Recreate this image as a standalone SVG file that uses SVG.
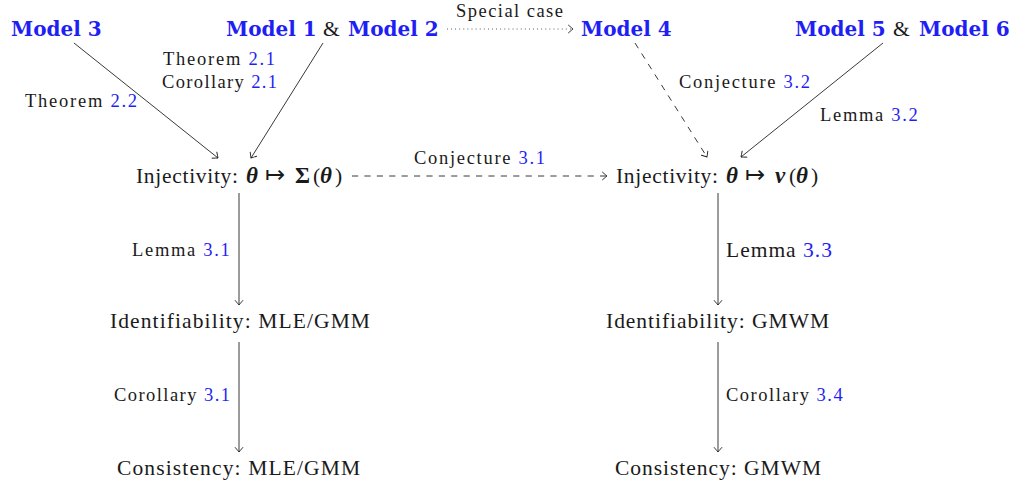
<svg xmlns="http://www.w3.org/2000/svg" width="1017" height="485" viewBox="0 0 1017 485">
<defs>
<marker id="ar" markerUnits="userSpaceOnUse" markerWidth="12" markerHeight="12" viewBox="-6 -6 12 12" refX="0" refY="0" orient="auto" overflow="visible">
<path d="M-4.5,-3.8 Q-1.2,-1 0,0 Q-1.2,1 -4.5,3.8" fill="none" stroke="#222" stroke-width="0.9" stroke-linecap="round"/>
</marker>
</defs>
<rect width="1017" height="485" fill="#fff"/>
<g id="connectors" stroke="#222" stroke-width="0.9" fill="none">
<line x1="74" y1="43" x2="218" y2="158" marker-end="url(#ar)"/>
<line x1="323" y1="43" x2="251" y2="158" marker-end="url(#ar)"/>
<line stroke-dasharray="0.8 3.3" x1="447" y1="29" x2="573" y2="29" marker-end="url(#ar)"/>
<line stroke-dasharray="6.2 6.2" x1="635" y1="43" x2="707" y2="157" marker-end="url(#ar)"/>
<line x1="883" y1="43" x2="741" y2="157" marker-end="url(#ar)"/>
<line stroke-dasharray="6.2 6.2" x1="352" y1="176" x2="607" y2="176" marker-end="url(#ar)"/>
<line x1="239" y1="193" x2="239" y2="305" marker-end="url(#ar)"/>
<line x1="239" y1="342" x2="239" y2="452" marker-end="url(#ar)"/>
<line x1="718" y1="193" x2="718" y2="305" marker-end="url(#ar)"/>
<line x1="718" y1="342" x2="718" y2="452" marker-end="url(#ar)"/>
</g>
<g id="labels" fill="#1a1a1a">
<text font-family="Liberation Serif" font-size="18.5" x="163" y="65" letter-spacing="1.75">Theorem <tspan fill="#1f1ff5">2.1</tspan></text>
<text font-family="Liberation Serif" font-size="18.5" x="162" y="88" letter-spacing="1.36">Corollary <tspan fill="#1f1ff5">2.1</tspan></text>
<text font-family="Liberation Serif" font-size="18.5" x="25" y="107" letter-spacing="1.75">Theorem <tspan fill="#1f1ff5">2.2</tspan></text>
<text font-family="Liberation Serif" font-size="18.5" x="456" y="17" letter-spacing="1.46">Special case</text>
<text font-family="Liberation Serif" font-size="18.5" x="679" y="88" letter-spacing="1.7">Conjecture <tspan fill="#1f1ff5">3.2</tspan></text>
<text font-family="Liberation Serif" font-size="18.5" x="820" y="121" letter-spacing="1.7">Lemma <tspan fill="#1f1ff5">3.2</tspan></text>
<text font-family="Liberation Serif" font-size="18.5" x="414" y="164" letter-spacing="1.7">Conjecture <tspan fill="#1f1ff5">3.1</tspan></text>
<text font-family="Liberation Serif" font-size="18.5" x="132" y="256" letter-spacing="1.7">Lemma <tspan fill="#1f1ff5">3.1</tspan></text>
<text font-family="Liberation Serif" font-size="18.5" x="114" y="401" letter-spacing="1.44">Corollary <tspan fill="#1f1ff5">3.1</tspan></text>
<text font-family="Liberation Serif" font-size="21.5" x="726" y="257" letter-spacing="1.0">Lemma <tspan fill="#1f1ff5">3.3</tspan></text>
<text font-family="Liberation Serif" font-size="18.5" x="726" y="401" letter-spacing="1.5">Corollary <tspan fill="#1f1ff5">3.4</tspan></text>
</g>
<g fill="#1a1a1a">
<g id="model3"><text x="11" y="35.5" font-family="DejaVu Serif" font-size="20" font-weight="bold" fill="#1f1ff5">Model 3</text></g>
<g id="model12"><text y="35.5" font-family="Liberation Serif" font-size="21.5"><tspan x="226" font-family="DejaVu Serif" font-size="20" font-weight="bold" fill="#1f1ff5">Model 1</tspan><tspan x="323">&amp;</tspan><tspan x="348" font-family="DejaVu Serif" font-size="20" font-weight="bold" fill="#1f1ff5">Model 2</tspan></text></g>
<g id="model4"><text x="581" y="35.5" font-family="DejaVu Serif" font-size="20" font-weight="bold" fill="#1f1ff5">Model 4</text></g>
<g id="model56"><text y="35.5" font-family="Liberation Serif" font-size="21.5"><tspan x="795" font-family="DejaVu Serif" font-size="20" font-weight="bold" fill="#1f1ff5">Model 5</tspan><tspan x="893">&amp;</tspan><tspan x="919" font-family="DejaVu Serif" font-size="20" font-weight="bold" fill="#1f1ff5">Model 6</tspan></text></g>
<g id="injL"><text y="183" font-family="Liberation Serif" font-size="21.5"><tspan x="136" letter-spacing="0.7">Injectivity:</tspan><tspan x="246" font-weight="bold" font-style="italic" font-size="23">θ</tspan><tspan x="265" font-size="24">↦</tspan><tspan x="295" font-weight="bold" font-size="23">Σ</tspan><tspan x="313">(</tspan><tspan x="320" font-weight="bold" font-style="italic" font-size="23">θ</tspan><tspan x="335">)</tspan></text></g>
<g id="injR"><text y="183" font-family="Liberation Serif" font-size="21.5"><tspan x="616" letter-spacing="0.7">Injectivity:</tspan><tspan x="726" font-weight="bold" font-style="italic" font-size="23">θ</tspan><tspan x="745" font-size="24">↦</tspan><tspan x="775" font-weight="bold" font-style="italic" font-size="23">ν</tspan><tspan x="789">(</tspan><tspan x="796" font-weight="bold" font-style="italic" font-size="23">θ</tspan><tspan x="811">)</tspan></text></g>
<g id="identL"><text font-family="Liberation Serif" font-size="21.5" x="110" y="328" letter-spacing="1.1">Identifiability: MLE/GMM</text></g>
<g id="identR"><text font-family="Liberation Serif" font-size="21.5" x="606" y="328" letter-spacing="0.97">Identifiability: GMWM</text></g>
<g id="consL"><text font-family="Liberation Serif" font-size="21.5" x="117" y="475" letter-spacing="1.13">Consistency: MLE/GMM</text></g>
<g id="consR"><text font-family="Liberation Serif" font-size="21.5" x="615" y="475" letter-spacing="0.97">Consistency: GMWM</text></g>
</g>
</svg>
